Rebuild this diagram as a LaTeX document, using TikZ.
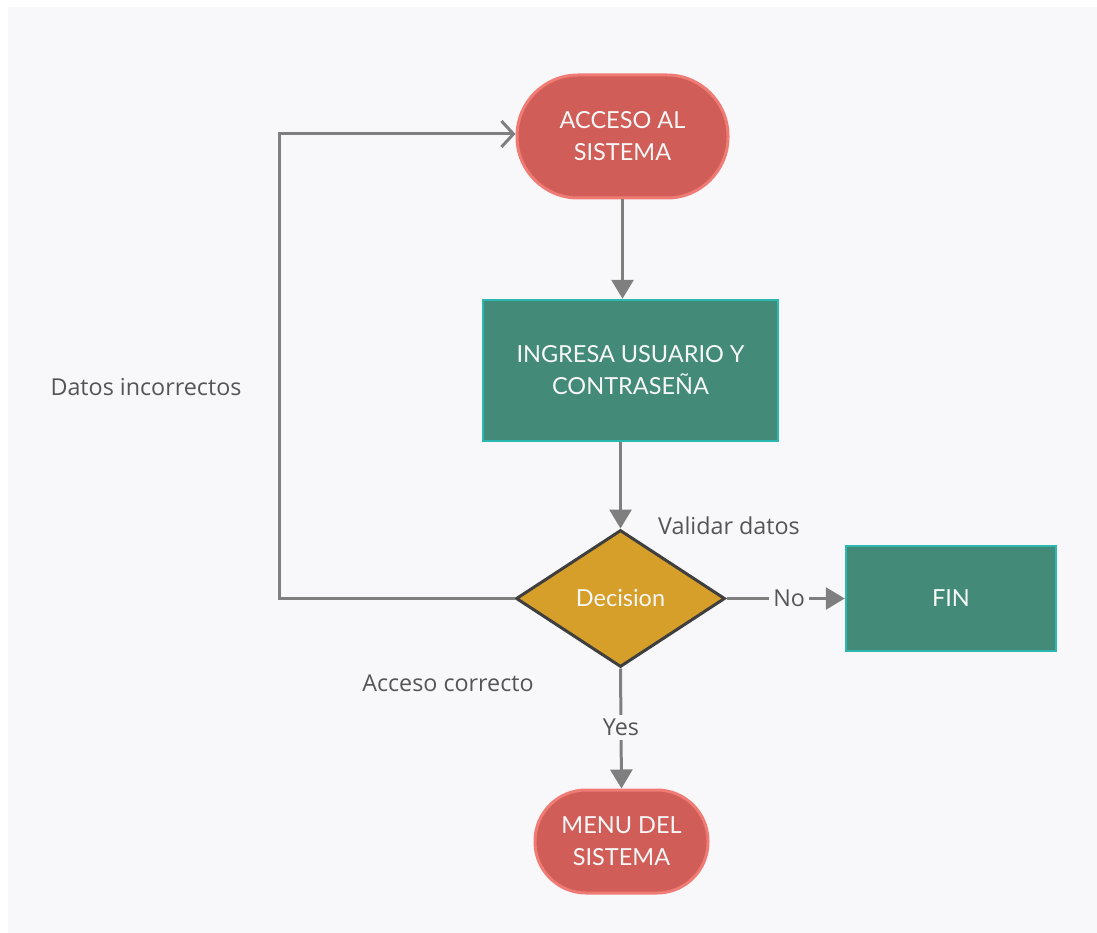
\documentclass[tikz,border=0pt]{standalone}
\usepackage{fontspec}
\setmainfont{Lato}
\newfontfamily\labelfont{Open Sans}
\usetikzlibrary{shapes.geometric,arrows.meta}

\definecolor{panelbg}{HTML}{F8F8FA}
\definecolor{termfill}{HTML}{D05D57}
\definecolor{termline}{HTML}{F07B75}
\definecolor{procfill}{HTML}{438B78}
\definecolor{procline}{HTML}{2CB8B0}
\definecolor{decfill}{HTML}{D69F2A}
\definecolor{decline}{HTML}{3F3F3F}
\definecolor{flowline}{HTML}{7F7F7F}
\definecolor{labeltext}{HTML}{555555}
\definecolor{nodetext}{HTML}{F7F7F7}

\tikzset{
  terminal/.style={draw=termline, fill=termfill, line width=3pt, rectangle,
    rounded corners=#1, text=nodetext, align=center, inner sep=0pt,
    font=\fontsize{23.5}{32}\selectfont},
  process/.style={draw=procline, fill=procfill, line width=2.5pt, rectangle,
    text=nodetext, align=center, inner sep=0pt,
    font=\fontsize{23.5}{32}\selectfont},
  decision/.style={draw=decline, fill=decfill, line width=3pt, diamond,
    text=nodetext, inner sep=0pt, font=\fontsize{23.5}{28}\selectfont},
  flow/.style={draw=flowline, line width=3pt},
  tip/.style={-{Triangle[width=22pt,length=19pt]}},
  opentip/.style={-{Straight Barb[width=26pt,length=12pt,line width=3pt]}},
  note/.style={text=labeltext, font=\labelfont\fontsize{23.3}{28}\selectfont, inner sep=2pt},
  onwire/.style={note, fill=panelbg, inner sep=4pt},
}

\begin{document}
\begin{tikzpicture}[x=1pt,y=-1pt]
  % canvas and panel
  \fill[white] (0,0) rectangle (1097,933);
  \fill[panelbg] (8,7) rectangle (1097,933);
  \useasboundingbox (0,0) rectangle (1097,933);

  % shapes
  \node[terminal=61pt, minimum width=211pt, minimum height=123pt] (acceso) at (622.5,136.5) {ACCESO AL\\SISTEMA};
  \node[process, minimum width=295pt, minimum height=141pt] (ingresa) at (630.5,370.5) {INGRESA USUARIO Y\\CONTRASEÑA};
  \node[decision, minimum width=209pt, minimum height=137pt] (dec) at (620.5,598.5) {Decision};
  \node[process, minimum width=210pt, minimum height=105pt] (fin) at (951,598.5) {FIN};
  \node[terminal=51pt, minimum width=173pt, minimum height=103pt] (menu) at (621.5,841.5) {MENU DEL\\SISTEMA};

  % free labels
  \node[note] (validar) at (729,526) {Validar datos};
  \node[note] (incorr) at (146,387) {Datos incorrectos};
  \node[note] (correcto) at (448,683) {Acceso correcto};

  % loop corner for the retry path
  \coordinate (loop) at (279,598.5);

  % connectors
  \draw[flow,tip] (acceso.south) -- (acceso.south |- ingresa.north);
  \draw[flow,tip] (dec.north |- ingresa.south) -- (dec.north);
  \draw[flow,opentip] (dec.west) -- (loop) |- ([yshift=2.5pt]acceso.west);
  \draw[flow,tip] (dec.east) -- node[onwire, pos=0.53] (no) {No} (fin.west);
  \draw[flow,tip] (dec.south) -- node[onwire, pos=0.49] (yes) {Yes} (menu.north);
\end{tikzpicture}
\end{document}
